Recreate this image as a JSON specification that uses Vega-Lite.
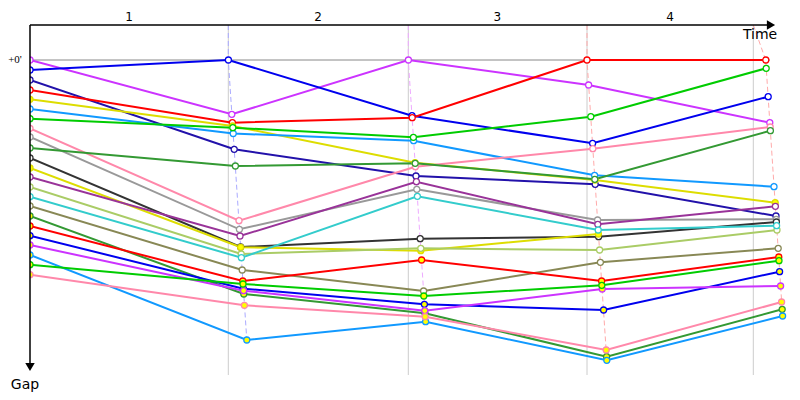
{
  "$schema": "https://vega.github.io/schema/vega-lite/v6.json",
  "width": 770,
  "height": 350,
  "autosize": {"type": "none"},
  "padding": {"left": 30, "top": 25, "right": 0, "bottom": 25},
  "background": "white",
  "config": {"view": {"stroke": null}},
  "datasets": {
    "drivers": [
      {"d":"P1","grp":"a","t":0,"g":0},{"d":"P1","grp":"a","t":100.9,"g":27.15},{"d":"P1","grp":"a","t":189.2,"g":0},{"d":"P1","grp":"a","t":279.3,"g":12.5},{"d":"P1","grp":"a","t":369.9,"g":31.35},
      {"d":"B1","grp":"a","t":0,"g":5},{"d":"B1","grp":"a","t":99.2,"g":0},{"d":"B1","grp":"a","t":191.0,"g":27.85},{"d":"B1","grp":"a","t":281.3,"g":41.65},{"d":"B1","grp":"a","t":369.1,"g":18.35},
      {"d":"N","grp":"a","t":0,"g":10},{"d":"N","grp":"a","t":102.1,"g":44.65},{"d":"N","grp":"a","t":193.0,"g":58},{"d":"N","grp":"a","t":282.6,"g":62.15},{"d":"N","grp":"a","t":373.0,"g":78},
      {"d":"R1","grp":"a","t":0,"g":15},{"d":"R1","grp":"a","t":101.2,"g":31.35},{"d":"R1","grp":"a","t":191.1,"g":28.85},{"d":"R1","grp":"a","t":278.5,"g":0},{"d":"R1","grp":"a","t":367.9,"g":0},
      {"d":"Y1","grp":"b","t":0,"g":19.65},{"d":"Y1","grp":"b","t":101.3,"g":33},{"d":"Y1","grp":"b","t":192.5,"g":51.35},{"d":"Y1","grp":"b","t":282.5,"g":60},{"d":"Y1","grp":"b","t":372.6,"g":71.35},
      {"d":"LB1","grp":"a","t":0,"g":24.5},{"d":"LB1","grp":"a","t":101.6,"g":36.75},{"d":"LB1","grp":"a","t":191.8,"g":40.35},{"d":"LB1","grp":"a","t":282.3,"g":57.65},{"d":"LB1","grp":"a","t":372.0,"g":63.35},
      {"d":"G1","grp":"a","t":0,"g":29.35},{"d":"G1","grp":"a","t":101.4,"g":33.85},{"d":"G1","grp":"a","t":191.7,"g":38.65},{"d":"G1","grp":"a","t":280.4,"g":28.35},{"d":"G1","grp":"a","t":368.1,"g":4.15},
      {"d":"PK1","grp":"a","t":0,"g":34.15},{"d":"PK1","grp":"a","t":104.5,"g":80.35},{"d":"PK1","grp":"a","t":192.7,"g":53.35},{"d":"PK1","grp":"a","t":281.4,"g":44.35},{"d":"PK1","grp":"a","t":370.1,"g":33.5},
      {"d":"GR","grp":"a","t":0,"g":38.5},{"d":"GR","grp":"a","t":104.7,"g":84.65},{"d":"GR","grp":"a","t":193.4,"g":64.65},{"d":"GR","grp":"a","t":283.8,"g":80},{"d":"GR","grp":"a","t":373.1,"g":79.65},
      {"d":"DG1","grp":"a","t":0,"g":44},{"d":"DG1","grp":"a","t":102.7,"g":53},{"d":"DG1","grp":"a","t":192.6,"g":51.65},{"d":"DG1","grp":"a","t":282.4,"g":59.65},{"d":"DG1","grp":"a","t":370.2,"g":35.35},
      {"d":"BK","grp":"a","t":0,"g":49},{"d":"BK","grp":"a","t":105.3,"g":93.5},{"d":"BK","grp":"a","t":195.1,"g":89.35},{"d":"BK","grp":"a","t":284.3,"g":88.35},{"d":"BK","grp":"a","t":373.2,"g":81},
      {"d":"Y2","grp":"b","t":0,"g":54},{"d":"Y2","grp":"b","t":105.3,"g":93.65},{"d":"Y2","grp":"b","t":195.4,"g":95.35},{"d":"Y2","grp":"b","t":284.2,"g":87},
      {"d":"DP","grp":"a","t":0,"g":58.5},{"d":"DP","grp":"a","t":105.0,"g":88},{"d":"DP","grp":"a","t":193.2,"g":60.85},{"d":"DP","grp":"a","t":283.9,"g":82.15},{"d":"DP","grp":"a","t":372.7,"g":73.15},
      {"d":"LG","grp":"a","t":0,"g":63.5},{"d":"LG","grp":"a","t":105.6,"g":97},{"d":"LG","grp":"a","t":195.4,"g":94.15},{"d":"LG","grp":"a","t":284.8,"g":95},{"d":"LG","grp":"a","t":373.5,"g":85},
      {"d":"C","grp":"a","t":0,"g":68.35},{"d":"C","grp":"a","t":105.7,"g":98.85},{"d":"C","grp":"a","t":193.7,"g":68.15},{"d":"C","grp":"a","t":284.1,"g":85},{"d":"C","grp":"a","t":373.3,"g":82.85},
      {"d":"O","grp":"a","t":0,"g":73},{"d":"O","grp":"a","t":106.1,"g":105},{"d":"O","grp":"a","t":196.8,"g":115.5},{"d":"O","grp":"a","t":285.2,"g":101.15},{"d":"O","grp":"a","t":374.1,"g":94.15},
      {"d":"DG2","grp":"b","t":0,"g":78},{"d":"DG2","grp":"b","t":106.9,"g":117},{"d":"DG2","grp":"b","t":197.5,"g":126.65},{"d":"DG2","grp":"b","t":288.3,"g":148.35},{"d":"DG2","grp":"b","t":376.1,"g":124.65},
      {"d":"R2","grp":"b","t":0,"g":83},{"d":"R2","grp":"b","t":106.4,"g":110.5},{"d":"R2","grp":"b","t":195.8,"g":100},{"d":"R2","grp":"b","t":285.8,"g":110.5},{"d":"R2","grp":"b","t":374.4,"g":98.5},
      {"d":"B2","grp":"b","t":0,"g":87.85},{"d":"B2","grp":"b","t":106.7,"g":114.35},{"d":"B2","grp":"b","t":197.2,"g":122.15},{"d":"B2","grp":"b","t":286.8,"g":125},{"d":"B2","grp":"b","t":374.8,"g":105.85},
      {"d":"V2","grp":"b","t":0,"g":92.5},{"d":"V2","grp":"b","t":106.8,"g":115.35},{"d":"V2","grp":"b","t":197.4,"g":125.35},{"d":"V2","grp":"b","t":286.1,"g":114.5},{"d":"V2","grp":"b","t":375.3,"g":113},
      {"d":"LB2","grp":"b","t":0,"g":97.5},{"d":"LB2","grp":"b","t":108.4,"g":140},{"d":"LB2","grp":"b","t":197.8,"g":130.85},{"d":"LB2","grp":"b","t":288.4,"g":150.15},{"d":"LB2","grp":"b","t":376.3,"g":128},
      {"d":"G2","grp":"b","t":0,"g":102.35},{"d":"G2","grp":"b","t":106.5,"g":112},{"d":"G2","grp":"b","t":196.9,"g":118},{"d":"G2","grp":"b","t":285.9,"g":112.65},{"d":"G2","grp":"b","t":374.5,"g":100.35},
      {"d":"PK2","grp":"b","t":0,"g":107.35},{"d":"PK2","grp":"b","t":107.2,"g":122.65},{"d":"PK2","grp":"b","t":197.6,"g":128.35},{"d":"PK2","grp":"b","t":288.1,"g":145},{"d":"PK2","grp":"b","t":375.8,"g":121}
    ],
    "conn": [
      {"lap":"1","t":99.15,"g":-17.5},{"lap":"1","t":99.15,"g":0},{"lap":"1","t":108.4,"g":140},
      {"lap":"2","t":189.15,"g":-17.5},{"lap":"2","t":189.15,"g":0},{"lap":"2","t":197.8,"g":130.85},
      {"lap":"3","t":278.5,"g":-17.5},{"lap":"3","t":278.5,"g":0},{"lap":"3","t":288.4,"g":150.15},
      {"lap":"4","t":361.65,"g":-17.5},{"lap":"4","t":367.85,"g":0},{"lap":"4","t":376.3,"g":128}
    ],
    "lapends": [{"t":99.15},{"t":189.15},{"t":278.5},{"t":361.65}],
    "laps": [{"lap":"1","t":49.5},{"lap":"2","t":144},{"lap":"3","t":233.7},{"lap":"4","t":320}]
  },
  "layer": [
    {
      "data": {"name": "lapends"},
      "mark": {"type": "rule", "color": "#cccccc", "strokeWidth": 1},
      "encoding": {
        "x": {"field": "t", "type": "quantitative", "scale": {"domain": [0, 385], "nice": false, "zero": false}, "axis": null},
        "y": {"datum": -17.5, "type": "quantitative", "scale": {"domain": [-17.5, 157.5], "nice": false, "zero": false, "reverse": true}, "axis": null},
        "y2": {"datum": 157.5}
      }
    },
    {
      "data": {"values": [{}]},
      "mark": {"type": "rule", "color": "#888888", "strokeWidth": 1},
      "encoding": {
        "x": {"datum": 0, "type": "quantitative"},
        "x2": {"datum": 370},
        "y": {"datum": 0, "type": "quantitative"}
      }
    },
    {
      "data": {"name": "conn"},
      "mark": {"type": "line", "strokeWidth": 1, "strokeDash": [5, 3]},
      "encoding": {
        "x": {"field": "t", "type": "quantitative"},
        "y": {"field": "g", "type": "quantitative"},
        "order": {"field": "g", "type": "quantitative"},
        "color": {"field": "lap", "type": "nominal", "legend": null,
          "scale": {"domain": ["1","2","3","4"], "range": ["#aaaaff","#eeaaff","#ffaaaa","#ffaaaa"]}}
      }
    },
    {
      "data": {"name": "drivers"},
      "mark": {"type": "line", "strokeWidth": 2, "clip": true},
      "encoding": {
        "x": {"field": "t", "type": "quantitative"},
        "y": {"field": "g", "type": "quantitative"},
        "color": {"field": "d", "type": "nominal", "legend": null,
          "scale": {"domain": ["P1","B1","N","R1","Y1","LB1","G1","PK1","GR","DG1","BK","Y2","DP","LG","C","O","DG2","R2","B2","V2","LB2","G2","PK2"],
            "range": ["#cc33ff","#0000ee","#2211aa","#ff0000","#dddd00","#1199ff","#00cc00","#ff88aa","#999999","#339933","#333333","#dddd00","#993399","#aacc66","#33cccc","#888855","#339933","#ff0000","#0000ee","#cc33ff","#1199ff","#00cc00","#ff88aa"]}}
      }
    },
    {
      "data": {"name": "drivers"},
      "mark": {"type": "point", "shape": "circle", "size": 36, "strokeWidth": 1.3, "filled": false, "opacity": 1, "clip": true},
      "encoding": {
        "x": {"field": "t", "type": "quantitative"},
        "y": {"field": "g", "type": "quantitative"},
        "stroke": {"field": "d", "type": "nominal", "legend": null,
          "scale": {"domain": ["P1","B1","N","R1","Y1","LB1","G1","PK1","GR","DG1","BK","Y2","DP","LG","C","O","DG2","R2","B2","V2","LB2","G2","PK2"],
            "range": ["#cc33ff","#0000ee","#2211aa","#ff0000","#dddd00","#1199ff","#00cc00","#ff88aa","#999999","#339933","#333333","#dddd00","#993399","#aacc66","#33cccc","#888855","#339933","#ff0000","#0000ee","#cc33ff","#1199ff","#00cc00","#ff88aa"]}},
        "fill": {"field": "grp", "type": "nominal", "legend": null,
          "scale": {"domain": ["a","b"], "range": ["#ffffff","#ffff00"]}}
      }
    },
    {
      "data": {"values": [{}]},
      "mark": {"type": "rule", "color": "black", "strokeWidth": 1.5},
      "encoding": {
        "x": {"datum": 0, "type": "quantitative"},
        "x2": {"datum": 371},
        "y": {"datum": -17.5, "type": "quantitative"}
      }
    },
    {
      "data": {"values": [{}]},
      "mark": {"type": "rule", "color": "black", "strokeWidth": 1.5},
      "encoding": {
        "x": {"datum": 0, "type": "quantitative"},
        "y": {"datum": -17.5, "type": "quantitative"},
        "y2": {"datum": 154}
      }
    },
    {
      "data": {"values": [{}]},
      "mark": {"type": "point", "shape": "triangle-right", "size": 90, "filled": true, "color": "black", "opacity": 1},
      "encoding": {
        "x": {"datum": 370.5, "type": "quantitative"},
        "y": {"datum": -17.5, "type": "quantitative"}
      }
    },
    {
      "data": {"values": [{}]},
      "mark": {"type": "point", "shape": "triangle-down", "size": 90, "filled": true, "color": "black", "opacity": 1},
      "encoding": {
        "x": {"datum": 0, "type": "quantitative"},
        "y": {"datum": 153.5, "type": "quantitative"}
      }
    },
    {
      "data": {"name": "laps"},
      "mark": {"type": "text", "font": "DejaVu Sans", "fontSize": 12, "color": "black", "align": "center", "baseline": "middle"},
      "encoding": {
        "x": {"field": "t", "type": "quantitative"},
        "y": {"datum": -21.5, "type": "quantitative"},
        "text": {"field": "lap"}
      }
    },
    {
      "data": {"values": [{"label": "Time", "t": 365, "g": -12.5}]},
      "mark": {"type": "text", "font": "DejaVu Sans", "fontSize": 14, "color": "black", "align": "center", "baseline": "middle"},
      "encoding": {
        "x": {"field": "t", "type": "quantitative"},
        "y": {"field": "g", "type": "quantitative"},
        "text": {"field": "label"}
      }
    },
    {
      "data": {"values": [{"label": "Gap", "t": -2.5, "g": 162.5}]},
      "mark": {"type": "text", "font": "DejaVu Sans", "fontSize": 14, "color": "black", "align": "center", "baseline": "middle"},
      "encoding": {
        "x": {"field": "t", "type": "quantitative"},
        "y": {"field": "g", "type": "quantitative"},
        "text": {"field": "label"}
      }
    },
    {
      "data": {"values": [{"label": "+0'", "t": -7.5, "g": 0}]},
      "mark": {"type": "text", "font": "Liberation Serif", "fontSize": 11, "color": "black", "align": "center", "baseline": "middle"},
      "encoding": {
        "x": {"field": "t", "type": "quantitative"},
        "y": {"field": "g", "type": "quantitative"},
        "text": {"field": "label"}
      }
    }
  ],
  "resolve": {"scale": {"color": "independent"}}
}
